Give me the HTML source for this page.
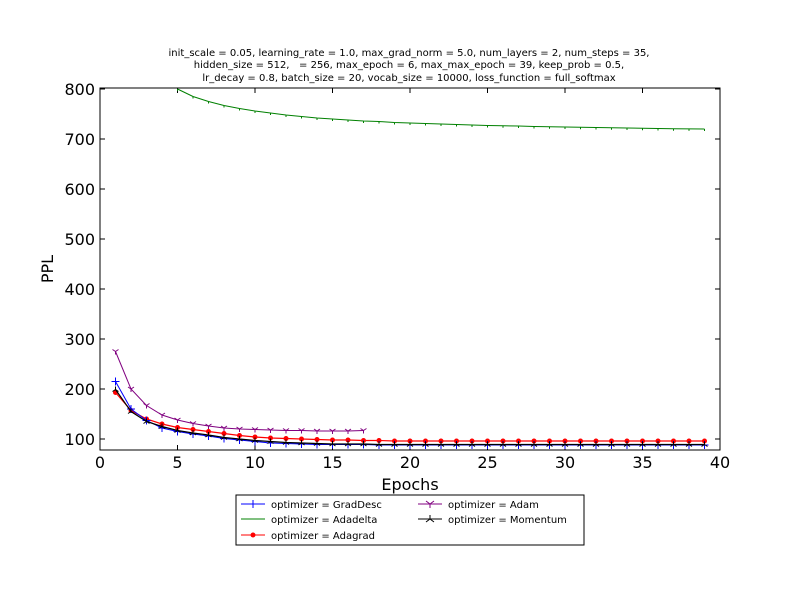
<!DOCTYPE html>
<html><head><meta charset="utf-8"><style>body{margin:0;background:#fff}svg text{font-family:"DejaVu Sans","Liberation Sans",sans-serif;white-space:pre}</style></head>
<body>
<svg id="c" width="800" height="600" xmlns="http://www.w3.org/2000/svg">
<rect width="800" height="600" fill="#fff"/>
<g font-size="10" text-anchor="middle">
<text x="409" y="56">init_scale = 0.05, learning_rate = 1.0, max_grad_norm = 5.0, num_layers = 2, num_steps = 35,</text>
<text x="409" y="68" xml:space="preserve">hidden_size = 512,   = 256, max_epoch = 6, max_max_epoch = 39, keep_prob = 0.5,</text>
<text x="409" y="81">lr_decay = 0.8, batch_size = 20, vocab_size = 10000, loss_function = full_softmax</text>
</g>
<g id="plot"></g>
<rect x="100" y="88" width="620" height="362" fill="none" stroke="#000"/>
<text x="410" y="490" font-size="16" text-anchor="middle">Epochs</text>
<text x="53" y="269" font-size="16" text-anchor="middle" transform="rotate(-90 53 269)">PPL</text>
<g>
<rect x="236" y="495" width="348" height="50" fill="#fff" stroke="#000"/>
<g font-size="10">
<line x1="241" y1="504" x2="265" y2="504" stroke="#00f"/><path d="M249 504h8M253 500v8" stroke="#00f"/><text x="271" y="508">optimizer = GradDesc</text>
<line x1="241" y1="519" x2="265" y2="519" stroke="#008000"/><text x="271" y="523">optimizer = Adadelta</text>
<line x1="241" y1="535" x2="265" y2="535" stroke="#f00"/><circle cx="253" cy="535" r="2.5" fill="#f00"/><text x="271" y="539">optimizer = Adagrad</text>
<line x1="418" y1="504" x2="442" y2="504" stroke="#800080"/><path d="M430 504v4M430 504l-4-3M430 504l4-3" stroke="#800080"/><text x="448" y="508">optimizer = Adam</text>
<line x1="418" y1="519" x2="442" y2="519" stroke="#000"/><path d="M430 519v-4M430 519l-4 3M430 519l4 3" stroke="#000"/><text x="448" y="523">optimizer = Momentum</text>
</g></g>
</svg>
<script>
const xTicks=[0,5,10,15,20,25,30,35,40];
const yTicks=[100,200,300,400,500,600,700,800];
const gradDesc=[215,160,137,122,115,110,106,101,98,95,92,91,90,89,89,89,89,88,88,88,88,88,88,88,88,88,88,88,88,88,88,88,88,88,88,88,88,88,88];
const adagrad=[193,157,140,130,123,119,115,111,107,104,102,101,100,99,98,98,97,97,96,96,96,96,96,96,96,96,96,96,96,96,96,96,96,96,96,96,96,96,96];
const adam=[275,200,167,148,138,131,126,122,120,119,118,117,117,116,116,116,117];
const momentum=[199,155,135,125,117,112,108,103,100,97,95,93,92,91,90,90,90,89,89,89,89,89,89,89,89,89,89,89,89,89,89,89,89,89,89,89,89,89,89];
const adadeltaEpochs=[5,6,7,8,9,10,11,12,13,14,15,16,17,18,19,20,21,22,23,24,25,26,27,28,29,30,31,32,33,34,35,36,37,38,39];
const adadelta=[800,785,775,767,761,756,752,748,745,742,740,738,736,735,733,732,731,730,729,728,727,726.5,726,725,724.5,724,723.5,723,722.5,722,721.5,721,720.5,720.3,720];
const X=v=>100+v*15.5, Y=v=>439-(v-100)*0.5;
const NS="http://www.w3.org/2000/svg", svg=document.getElementById('c'), P=document.getElementById('plot');
function mk(t,a,p){const e=document.createElementNS(NS,t);for(const k in a)e.setAttribute(k,a[k]);(p||P).appendChild(e);return e;}
xTicks.forEach(t=>{const g=mk('g',{});


mk('line',{x1:X(t),x2:X(t),y1:450,y2:445,stroke:'#000'},g);mk('line',{x1:X(t),x2:X(t),y1:88,y2:93,stroke:'#000'},g);
const tx=mk('text',{x:X(t),y:468,'font-size':16,'text-anchor':'middle'},g);tx.textContent=t;});
yTicks.forEach(t=>{const g=mk('g',{});


mk('line',{x1:100,x2:105,y1:Y(t),y2:Y(t),stroke:'#000'},g);mk('line',{x1:715,x2:720,y1:Y(t),y2:Y(t),stroke:'#000'},g);
const tx=mk('text',{x:95,y:Y(t)+6,'font-size':16,'text-anchor':'end'},g);tx.textContent=t;});
function series(name,xs,ys,color,marker,w){
const g=mk('g',{});


mk('polyline',{points:xs.map((x,i)=>X(x)+','+Y(ys[i])).join(' '),fill:'none',stroke:color,'stroke-width':w},g);
xs.forEach((x,i)=>{const cx=X(x),cy=Y(ys[i]);
if(marker==='o')mk('circle',{cx,cy,r:2.5,fill:color},g);
else if(marker==='+')mk('path',{d:`M${cx-4} ${cy}h8M${cx} ${cy-4}v8`,stroke:color},g);
else if(marker==='y')mk('path',{d:`M${cx} ${cy}v3M${cx} ${cy}l-3-2M${cx} ${cy}l3-2`,stroke:color},g);
else if(marker==='k')mk('path',{d:`M${cx} ${cy}v-3M${cx} ${cy}l-3 2M${cx} ${cy}l3 2`,stroke:color},g);
else mk('path',{d:`M${cx} ${cy}v2`,stroke:color},g);});}
const ep=n=>Array.from({length:n},(_,i)=>i+1);
series('series-adadelta',adadeltaEpochs,adadelta,'#008000','|',1);
series('series-adam',ep(adam.length),adam,'#800080','y',1);
series('series-adagrad',ep(adagrad.length),adagrad,'#f00','o',1.2);
series('series-graddesc',ep(gradDesc.length),gradDesc,'#00f','+',1);
series('series-momentum',ep(momentum.length),momentum,'#000','k',1.2);
</script>
</body></html>
